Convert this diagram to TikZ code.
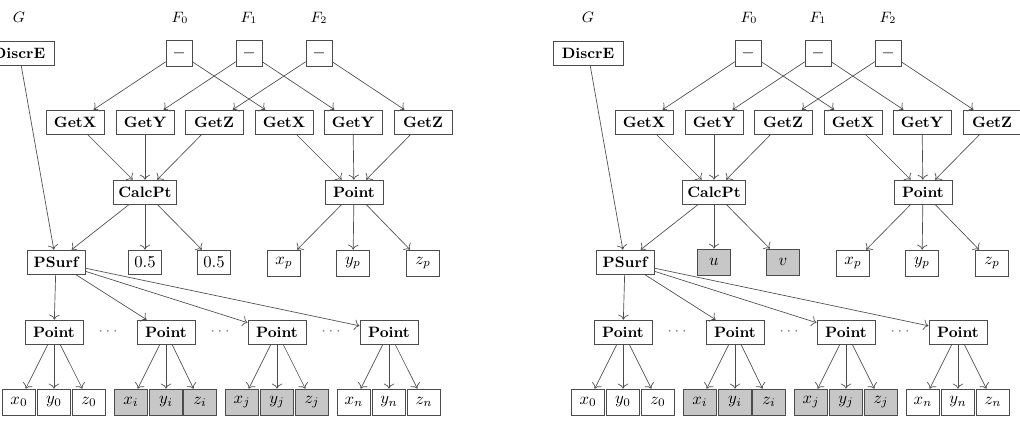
\documentclass[tikz,border=0pt]{standalone}
\usetikzlibrary{arrows.meta}
\begin{document}
\begin{tikzpicture}[
    x=0.6pt, y=-0.6pt,
    box/.style={rectangle, draw=black!70, fill=white, minimum height=14.4pt, minimum width=35pt, inner sep=3pt, font=\small\bfseries},
    opbox/.style={box, minimum width=15.6pt, minimum height=15.6pt, font=\normalfont},
    leaf/.style={box, minimum width=19.5pt, minimum height=15.6pt, font=\normalfont},
    shaded/.style={fill=black!22},
    arrow/.style={-{To[length=3pt]}, draw=black!70, thin},
    lbl/.style={font=\small}
]
\useasboundingbox (0,0) rectangle (1020,421);

\foreach \o/\p/\ua/\va/\uvstyle in {0/L/0.5/0.5/box, 569/R/$u$/$v$/shaded}{
  % input labels
  \node[lbl] (\p-g) at (\o+19,17) {$G$};
  \node[lbl] (\p-f0) at (\o+180,18) {$F_0$};
  \node[lbl] (\p-f1) at (\o+249,18) {$F_1$};
  \node[lbl] (\p-f2) at (\o+319,18) {$F_2$};

  % top row
  \node[box, minimum width=42pt] (\p-discr) at (\o+19,53) {DiscrE};
  \node[opbox] (\p-m0) at (\o+179,53) {$-$};
  \node[opbox] (\p-m1) at (\o+249,53) {$-$};
  \node[opbox] (\p-m2) at (\o+319,53) {$-$};

  % getters
  \node[box] (\p-gx1) at (\o+75,122) {GetX};
  \node[box] (\p-gy1) at (\o+145,122) {GetY};
  \node[box] (\p-gz1) at (\o+214,122) {GetZ};
  \node[box] (\p-gx2) at (\o+284,122) {GetX};
  \node[box] (\p-gy2) at (\o+353,122) {GetY};
  \node[box] (\p-gz2) at (\o+423,122) {GetZ};

  % calc / point
  \node[box] (\p-calc) at (\o+145,192) {CalcPt};
  \node[box] (\p-pt) at (\o+354,192) {Point};

  % third row
  \node[box] (\p-psurf) at (\o+56,262) {PSurf};
  \node[leaf, \uvstyle, font=\normalfont, minimum width=19.5pt] (\p-u) at (\o+145,262) {\ua};
  \node[leaf, \uvstyle, font=\normalfont, minimum width=19.5pt] (\p-v) at (\o+214,262) {\va};
  \node[leaf] (\p-xp) at (\o+284,263) {$x_p$};
  \node[leaf] (\p-yp) at (\o+353,263) {$y_p$};
  \node[leaf] (\p-zp) at (\o+423,263) {$z_p$};

  % sample points
  \node[box] (\p-p0) at (\o+54,332) {Point};
  \node[box] (\p-pi) at (\o+166,332) {Point};
  \node[box] (\p-pj) at (\o+277,332) {Point};
  \node[box] (\p-pn) at (\o+389,332) {Point};
  \node[text=black!50] (\p-d1) at (\o+108,332) {$\cdots$};
  \node[text=black!50] (\p-d2) at (\o+220,332) {$\cdots$};
  \node[text=black!50] (\p-d3) at (\o+331,332) {$\cdots$};

  % leaves
  \node[leaf] (\p-x0) at (\o+19,402) {$x_0$};
  \node[leaf] (\p-y0) at (\o+54,402) {$y_0$};
  \node[leaf] (\p-z0) at (\o+89,402) {$z_0$};
  \node[leaf, shaded] (\p-xi) at (\o+131,402) {$x_i$};
  \node[leaf, shaded] (\p-yi) at (\o+166,402) {$y_i$};
  \node[leaf, shaded] (\p-zi) at (\o+200,402) {$z_i$};
  \node[leaf, shaded] (\p-xj) at (\o+242,402) {$x_j$};
  \node[leaf, shaded] (\p-yj) at (\o+277,402) {$y_j$};
  \node[leaf, shaded] (\p-zj) at (\o+312,402) {$z_j$};
  \node[leaf] (\p-xn) at (\o+354,402) {$x_n$};
  \node[leaf] (\p-yn) at (\o+389,402) {$y_n$};
  \node[leaf] (\p-zn) at (\o+424,402) {$z_n$};

  % arrows
  \draw[arrow] (\p-m0) -- (\p-gx1);
  \draw[arrow] (\p-m0) -- (\p-gx2);
  \draw[arrow] (\p-m1) -- (\p-gy1);
  \draw[arrow] (\p-m1) -- (\p-gy2);
  \draw[arrow] (\p-m2) -- (\p-gz1);
  \draw[arrow] (\p-m2) -- (\p-gz2);
  \foreach \s in {gx1,gy1,gz1}
    \draw[arrow] (\p-\s) -- (\p-calc);
  \foreach \s in {gx2,gy2,gz2}
    \draw[arrow] (\p-\s) -- (\p-pt);
  \foreach \t in {psurf,u,v}
    \draw[arrow] (\p-calc) -- (\p-\t);
  \foreach \t in {xp,yp,zp}
    \draw[arrow] (\p-pt) -- (\p-\t);
  \draw[arrow] (\p-discr) -- (\p-psurf);
  \foreach \t in {p0,pi,pj,pn}
    \draw[arrow] (\p-psurf) -- (\p-\t);
  \foreach \s/\a/\b/\c in {p0/x0/y0/z0, pi/xi/yi/zi, pj/xj/yj/zj, pn/xn/yn/zn}{
    \draw[arrow] (\p-\s) -- (\p-\a);
    \draw[arrow] (\p-\s) -- (\p-\b);
    \draw[arrow] (\p-\s) -- (\p-\c);
  }
}
\end{tikzpicture}
\end{document}
